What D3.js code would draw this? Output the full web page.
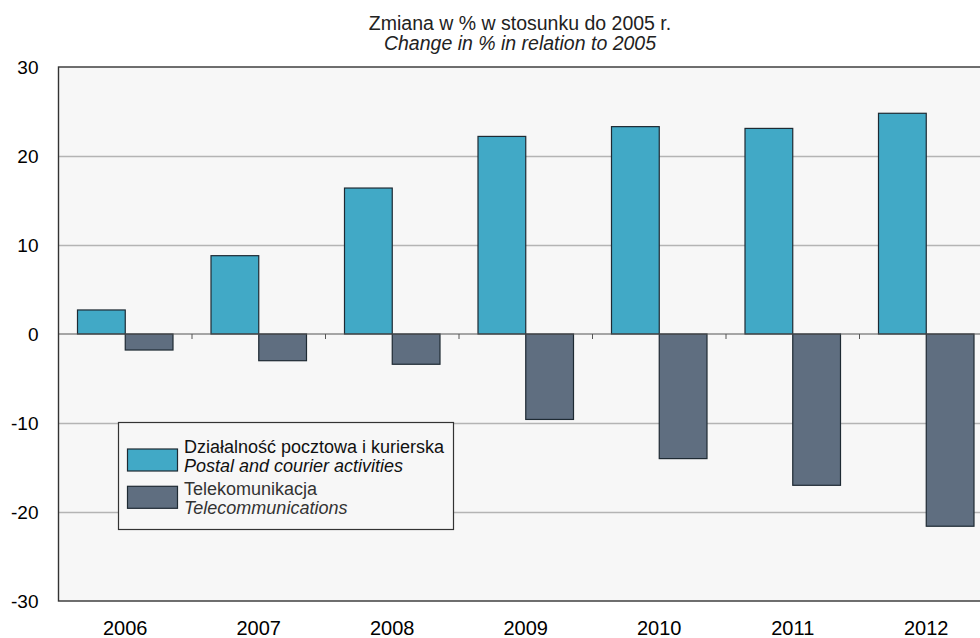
<!DOCTYPE html>
<html>
<head>
<meta charset="utf-8">
<script src="https://cdn.jsdelivr.net/npm/d3@7"></script>
<style>
  html, body { margin: 0; padding: 0; background: #ffffff; overflow: hidden; }
  svg { display: block; font-family: "Liberation Sans", Arial, sans-serif; }
</style>
</head>
<body>
<svg id="chart" width="980" height="638"></svg>
<script>
// Years on the category axis
const years = ["2006", "2007", "2008", "2009", "2010", "2011", "2012"];
// Change in % relative to 2005
const postal = [2.7, 8.8, 16.4, 22.2, 23.3, 23.1, 24.8];
const telecom = [-1.8, -3.0, -3.4, -9.6, -14.0, -17.0, -21.6];
const yTicks = [-30, -20, -10, 0, 10, 20, 30];
const seriesNames = [
  { pl: "Działalność pocztowa i kurierska", en: "Postal and courier activities", color: "#41a9c6" },
  { pl: "Telekomunikacja", en: "Telecommunications", color: "#5f6e80" }
];
const titlePl = "Zmiana w % w stosunku do 2005 r.";
const titleEn = "Change in % in relation to 2005";

const FONT = "'Liberation Sans', Arial, sans-serif";
const svg = d3.select("#chart");
const plot = { left: 58.5, right: 993, top: 67, bottom: 601 };

const x = d3.scaleBand().domain(years).range([plot.left, plot.right]).paddingInner(0).paddingOuter(0);
const y = d3.scaleLinear().domain([-30, 30]).range([plot.bottom, plot.top]);
const pad = 19 / 133.5;
const inner = d3.scaleBand().domain([0, 1]).range([x.bandwidth() * pad, x.bandwidth() * (1 - pad)]);

// plot background
svg.append("rect")
  .attr("x", plot.left).attr("y", plot.top)
  .attr("width", plot.right - plot.left).attr("height", plot.bottom - plot.top)
  .attr("fill", "#f7f7f7");

// horizontal gridlines
svg.append("g").selectAll("line")
  .data(yTicks.filter(d => d !== 0 && d !== 30 && d !== -30))
  .join("line")
  .attr("x1", plot.left).attr("x2", plot.right)
  .attr("y1", d => Math.round(y(d)) + 0.5).attr("y2", d => Math.round(y(d)) + 0.5)
  .attr("stroke", "#b4b4b4").attr("stroke-width", 1.3);

// bars
const groups = svg.append("g").selectAll("g")
  .data(years)
  .join("g")
  .attr("transform", d => `translate(${x(d)},0)`);

[postal, telecom].forEach((vals, si) => {
  groups.append("rect")
    .attr("x", inner(si))
    .attr("width", inner.bandwidth())
    .attr("y", (d, i) => y(Math.max(0, vals[i])))
    .attr("height", (d, i) => Math.abs(y(vals[i]) - y(0)))
    .attr("fill", seriesNames[si].color)
    .attr("stroke", "#1e2a33").attr("stroke-width", 1.2);
});

// zero line
svg.append("line")
  .attr("x1", plot.left).attr("x2", plot.right)
  .attr("y1", y(0)).attr("y2", y(0))
  .attr("stroke", "#555").attr("stroke-width", 1.2);

// category tick marks on the zero line
svg.append("g").selectAll("line")
  .data(years.slice(1))
  .join("line")
  .attr("x1", d => x(d)).attr("x2", d => x(d))
  .attr("y1", y(0)).attr("y2", y(0) + 5)
  .attr("stroke", "#555").attr("stroke-width", 1);

// plot frame
svg.append("rect")
  .attr("x", plot.left).attr("y", plot.top)
  .attr("width", plot.right - plot.left).attr("height", plot.bottom - plot.top)
  .attr("fill", "none").attr("stroke", "#333").attr("stroke-width", 1.4);

// y axis labels
const yAxis = d3.axisLeft(y).tickValues(yTicks).tickFormat(d => String(d)).tickSize(0).tickPadding(20);
svg.append("g")
  .attr("transform", `translate(${plot.left},0)`)
  .call(yAxis)
  .call(g => g.select(".domain").remove())
  .call(g => g.selectAll("text").attr("font-size", 19).attr("fill", "#000").attr("font-family", FONT));

// x axis labels
const xAxis = d3.axisBottom(x).tickSize(0).tickPadding(20);
svg.append("g")
  .attr("transform", `translate(0,${plot.bottom})`)
  .call(xAxis)
  .call(g => g.select(".domain").remove())
  .call(g => g.selectAll("text").attr("font-size", 20).attr("fill", "#000").attr("font-family", FONT));

// title
svg.append("text").attr("x", 520).attr("y", 30).attr("text-anchor", "middle")
  .attr("font-family", FONT).attr("font-size", 19.5).attr("fill", "#222").text(titlePl);
svg.append("text").attr("x", 520).attr("y", 50).attr("text-anchor", "middle")
  .attr("font-family", FONT).attr("font-size", 19.5).attr("font-style", "italic").attr("fill", "#222").text(titleEn);

// legend
const legend = svg.append("g");
legend.append("rect")
  .attr("x", 118.5).attr("y", 422.5).attr("width", 335).attr("height", 107)
  .attr("fill", "#f7f7f7").attr("stroke", "#333").attr("stroke-width", 1.2);
seriesNames.forEach((s, i) => {
  const top = 449 + i * 37.3;
  const base = 452.5 + i * 42;
  legend.append("rect")
    .attr("x", 127.5).attr("y", top).attr("width", 50).attr("height", 22)
    .attr("fill", s.color).attr("stroke", "#1e2a33").attr("stroke-width", 1.2);
  legend.append("text").attr("x", 184).attr("y", base)
    .attr("font-family", FONT).attr("font-size", 18).attr("fill", i ? "#333" : "#111").text(s.pl);
  legend.append("text").attr("x", 184).attr("y", base + 19.5)
    .attr("font-family", FONT).attr("font-size", 18).attr("font-style", "italic").attr("fill", i ? "#333" : "#111").text(s.en);
});
</script>
</body>
</html>
